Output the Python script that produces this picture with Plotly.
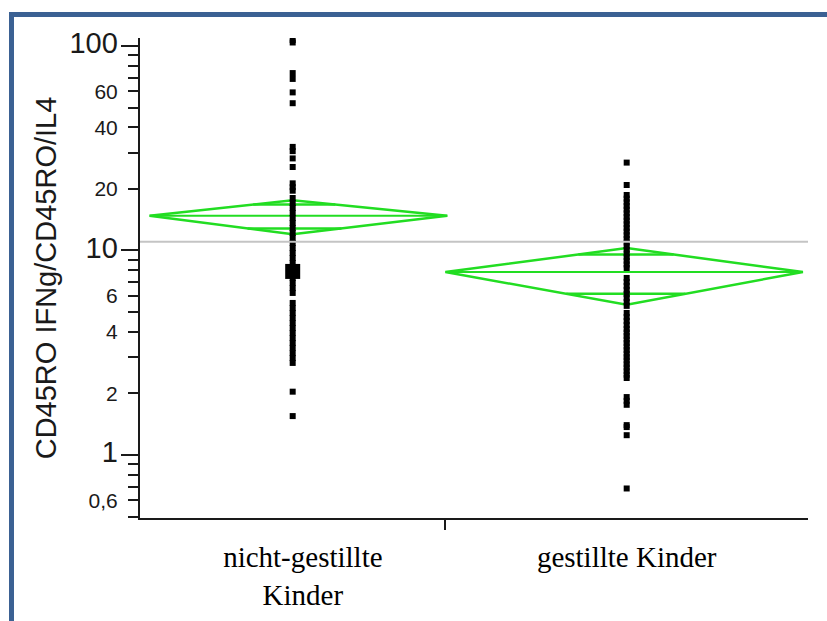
import math
import plotly.graph_objects as go

# ---------------- data ----------------
categories = ["nicht-gestillte<br>Kinder", "gestillte Kinder"]

values_nicht = [107, 104, 73.7, 69.0, 59.3, 52.5, 32.1, 30.6, 28.2, 25.6, 21.3, 20.4, 19.6,
                18.06, 17.07, 16.14, 15.26, 14.42, 13.63, 12.88, 12.18, 11.51, 10.88, 10.28,
                9.72, 9.19, 8.69, 8.21, 7.76, 7.34, 6.94, 6.55, 6.20,
                5.54, 5.23, 4.95, 4.68, 4.42, 4.18, 3.95, 3.73, 3.53, 3.34, 3.15, 2.98, 2.82,
                2.04, 1.55]
values_gest = [26.9, 20.9,
               18.68, 17.93, 17.20, 16.51, 15.84, 15.20, 14.59, 14.00, 13.44, 12.90, 12.38,
               11.88, 11.40, 10.94, 10.50, 10.08, 9.67, 9.28, 8.91, 8.55, 8.21,
               7.34, 7.02, 6.71, 6.41, 6.13, 5.86, 5.60, 5.36,
               4.95, 4.73, 4.52, 4.32,
               4.13, 3.97, 3.82, 3.67, 3.53, 3.39, 3.26, 3.13, 3.01, 2.90, 2.78, 2.68, 2.57,
               2.47, 2.38,
               1.92, 1.84, 1.76, 1.40, 1.37, 1.25, 0.686]
highlight_value = [7.9]          # large marker in first group

group_mean = [14.8, 7.85]
ci_half = [2.8, 2.42]

y_tickvals = [0.6, 1, 2, 4, 6, 10, 20, 40, 60, 100]
y_ticktext = ["0,6", "1", "2", "4", "6", "10", "20", "40", "60", "100"]
y_minor = [0.5, 0.7, 0.8, 0.9, 3, 5, 7, 8, 9, 30, 50, 70, 80, 90]
y_decades = [1, 10, 100]
y_title = "CD45RO IFNg/CD45RO/IL4"

# ---------------- layout helpers ----------------
groups = [values_nicht, values_gest]
group_n = [len(v) for v in groups]
starts = [0, group_n[0]]
ends = [group_n[0], group_n[0] + group_n[1]]
centers = [(s + e) / 2 for s, e in zip(starts, ends)]
N = ends[-1]
grand_mean = sum(m * n for m, n in zip(group_mean, group_n)) / N

green = "#22dd22"
diamond_pad = [(1.5, 0.3), (0.0, -0.8)]
label_shift = [1.6, 0.0]
label_pos = [c + s for c, s in zip(centers, label_shift)]

fig = go.Figure()

# grand mean line
fig.add_trace(go.Scatter(x=[0, N], y=[grand_mean, grand_mean], mode="lines",
                         line=dict(color="#c4c4c4", width=2), yaxis="y2",
                         hoverinfo="skip", showlegend=False))

# means diamonds
for i, (m, h) in enumerate(zip(group_mean, ci_half)):
    x0 = starts[i] + diamond_pad[i][0]
    x1 = ends[i] + diamond_pad[i][1]
    xc = centers[i]
    top, bot = m + h, m - h
    fig.add_trace(go.Scatter(x=[x0, xc, x1, xc, x0], y=[m, top, m, bot, m], mode="lines",
                             line=dict(color=green, width=2.5), showlegend=False,
                             hoverinfo="skip"))
    fig.add_trace(go.Scatter(x=[x0, x1], y=[m, m], mode="lines",
                             line=dict(color=green, width=2), showlegend=False,
                             hoverinfo="skip"))
    for yo, ye in [(m + h / math.sqrt(2), top), (m - h / math.sqrt(2), bot)]:
        t = (math.log10(yo) - math.log10(m)) / (math.log10(ye) - math.log10(m))
        xa = x0 + t * (xc - x0)
        xb = x1 - t * (x1 - xc)
        fig.add_trace(go.Scatter(x=[xa, xb], y=[yo, yo], mode="lines",
                                 line=dict(color=green, width=2.5), showlegend=False,
                                 hoverinfo="skip"))

# points
for i, vals in enumerate(groups):
    fig.add_trace(go.Scatter(x=[centers[i]] * len(vals), y=vals, mode="markers",
                             marker=dict(symbol="square", size=6, color="black",
                                         line=dict(width=0)),
                             showlegend=False))
fig.add_trace(go.Scatter(x=[centers[0]] * len(highlight_value), y=highlight_value,
                         mode="markers",
                         marker=dict(symbol="square", size=15, color="black",
                                     line=dict(width=0)),
                         showlegend=False))

ylog_range = [-0.308, 2.039]
big = lambda s: '<span style="font-size:29px">' + s + '</span>'
ticktext = [big(t) if v in y_decades else t for v, t in zip(y_tickvals, y_ticktext)]

fig.update_layout(
    width=827, height=621, autosize=False,
    margin=dict(l=140, r=19, t=38, b=103),
    paper_bgcolor="white", plot_bgcolor="white",
    font=dict(family="Liberation Sans, Arial, sans-serif", color="#1a1a1a"),
    xaxis=dict(range=[0, N], showgrid=False, zeroline=False, automargin=False,
               showline=True, linecolor="#1a1a1a", linewidth=2,
               tickmode="array", tickvals=label_pos, ticktext=categories, ticks="",
               ticklabelstandoff=12,
               tickfont=dict(family="Liberation Serif, Times New Roman, serif", size=29,
                             color="black"),
               minor=dict(tickmode="array", tickvals=[starts[1]], ticks="outside",
                          ticklen=10, tickwidth=2, tickcolor="#1a1a1a")),
    yaxis=dict(type="log", range=ylog_range, showgrid=False, zeroline=False,
               automargin=False,
               showline=True, linecolor="#1a1a1a", linewidth=2,
               tickmode="array", tickvals=y_tickvals, ticktext=ticktext,
               ticks="outside", ticklen=10, tickwidth=2, tickcolor="#1a1a1a",
               ticklabelstandoff=6,
               tickfont=dict(size=21, color="#1a1a1a"),
               title=dict(text=y_title, font=dict(size=29, color="#1a1a1a"), standoff=4),
               minor=dict(tickmode="array", tickvals=y_minor, ticks="outside",
                          ticklen=10, tickwidth=2, tickcolor="#1a1a1a")),
    yaxis2=dict(type="log", range=ylog_range, overlaying="y", side="left", anchor="x",
                showgrid=False, zeroline=False, showline=False, automargin=False,
                tickmode="array", tickvals=y_decades, ticks="outside", ticklen=18,
                tickwidth=2, tickcolor="#1a1a1a", showticklabels=False),
    shapes=[
        dict(type="line", xref="paper", yref="paper",
             x0=(9 - 140) / 668, x1=(827 - 140) / 668,
             y0=(518 - 14.5) / 480, y1=(518 - 14.5) / 480,
             line=dict(color="#3b6193", width=5)),
        dict(type="line", xref="paper", yref="paper",
             x0=(11.5 - 140) / 668, x1=(11.5 - 140) / 668,
             y0=(518 - 12) / 480, y1=(518 - 625) / 480,
             line=dict(color="#3b6193", width=5)),
    ],
)

fig.write_html("out.html")
